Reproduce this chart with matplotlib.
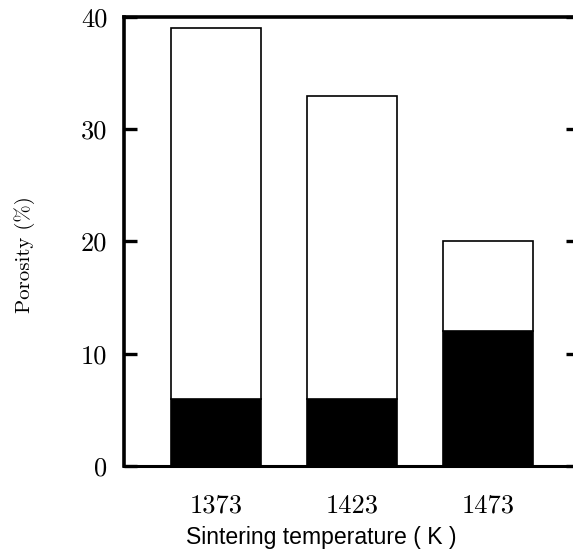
import numpy as np
import matplotlib.pyplot as plt

# ---------- DATA ----------
temps = ["1373", "1423", "1473"]
total_porosity = [39, 33, 20]
closed_porosity = [6, 6, 12]

open_porosity = [t - c for t, c in zip(total_porosity, closed_porosity)]
x = np.arange(len(temps))

# ---------- PLOT ----------
fig = plt.figure(figsize=(5.73, 5.58), dpi=100)
# right edge of the frame runs just past the figure border
ax = fig.add_axes([0.2164, 0.1649, 0.7923, 0.8047])

ax.bar(x, closed_porosity, width=0.66, color='black', edgecolor='black', linewidth=1.2)
ax.bar(x, open_porosity, width=0.66, bottom=closed_porosity,
       color='white', edgecolor='black', linewidth=1.2)

ax.set_xlim(-0.676, 2.662)
ax.set_ylim(0, 40)
ax.set_yticks([0, 10, 20, 30, 40])
ax.set_xticks(x)
ax.set_xticklabels(temps)

for lab in ax.get_xticklabels() + ax.get_yticklabels():
    lab.set_fontfamily('cmr10')
    lab.set_fontsize(19)

ax.tick_params(axis='y', direction='in', length=9, width=2.4, pad=12,
               right=True, left=True)
ax.tick_params(axis='x', length=0, pad=20)

for side in ['left', 'top', 'right']:
    ax.spines[side].set_linewidth(2.6)
ax.spines['bottom'].set_linewidth(2.2)

ax.set_ylabel("Porosity (%)", fontfamily='cmr10', fontsize=15)
ax.yaxis.set_label_coords(-0.195, 0.47)
ax.set_xlabel("Sintering temperature ( K )", fontfamily='Liberation Sans', fontsize=16.6)
ax.xaxis.set_label_coords(0.435, -0.134)

fig.savefig("out.png", dpi=100)
